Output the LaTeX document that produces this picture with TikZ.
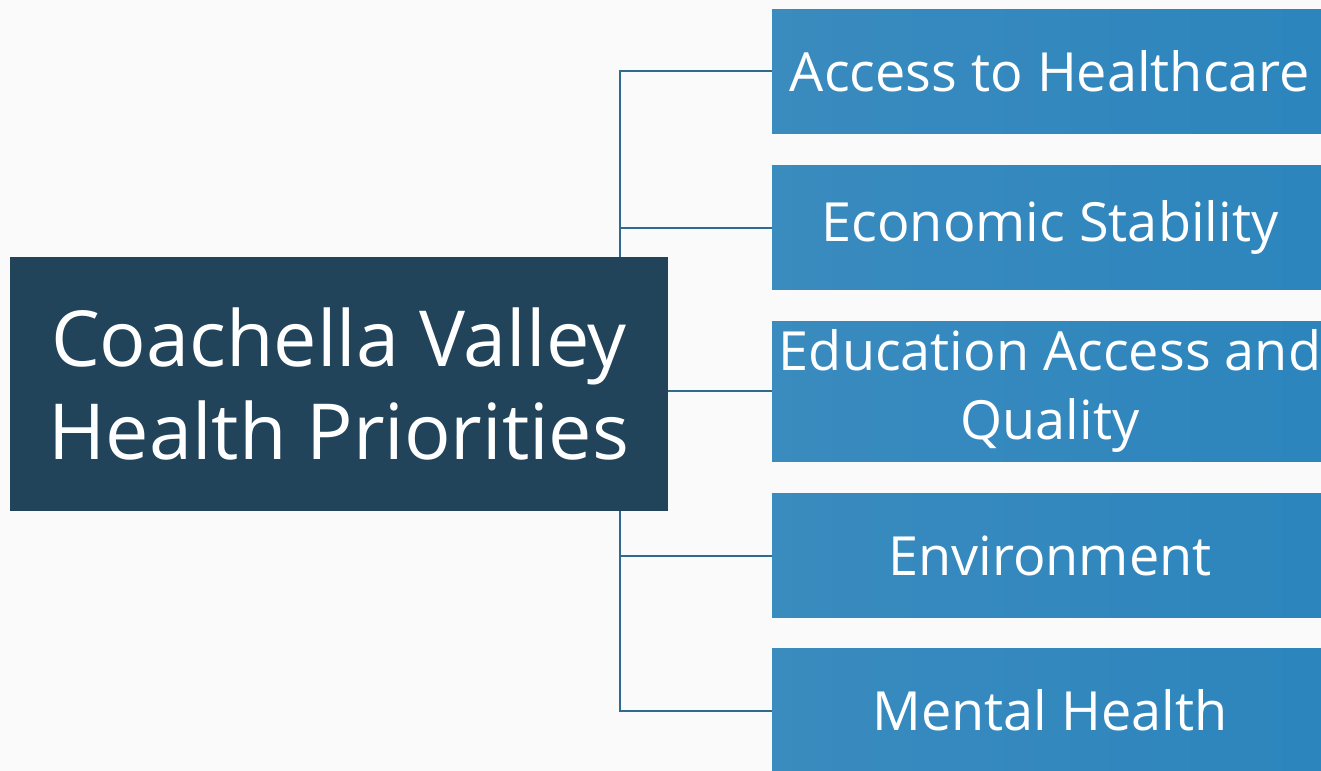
\documentclass[tikz,border=0pt]{standalone}
\usepackage{fontspec}
\setmainfont{Open Sans}
\definecolor{navy}{HTML}{21445A}
\definecolor{boxl}{HTML}{3A8BBE}
\definecolor{boxr}{HTML}{2C85BD}
\definecolor{linkc}{HTML}{2F6B8E}
\definecolor{paper}{HTML}{FAFAFA}

\begin{document}
\begin{tikzpicture}[x=0.75pt,y=-0.75pt,
  mainbox/.style={fill=navy,text=white,minimum width=493.5pt,minimum height=190.5pt,
    align=center,font=\fontsize{58}{70}\selectfont},
  topic/.style={left color=boxl,right color=boxr,text=white,minimum width=417pt,
    minimum height=93pt,align=center,inner sep=0pt,font=\fontsize{40.5}{52}\selectfont},
  link/.style={draw=linkc,line width=1.5pt}]
\useasboundingbox (0,0) rectangle (1321,771);
\clip (0,0) rectangle (1321,771);
\fill[paper] (0,0) rectangle (1321,771);

\node[mainbox] (main) at (339,384) {Coachella Valley\\Health Priorities};
\node[topic] (b1) at (1050,71) {Access to Healthcare};
\node[topic] (b2) at (1050,227.5) {Economic Stability};
\node[topic,minimum height=105pt] (b3) at (1050,391) {Education Access and\\Quality};
\node[topic] (b4) at (1050,555.5) {Environment};
\node[topic] (b5) at (1050,710.5) {Mental Health};

\coordinate (tr) at (620,0);
\draw[link] (b1.west) -- (b1.west -| tr) -- (main.north -| tr);
\draw[link] (b5.west) -- (b5.west -| tr) -- (main.south -| tr);
\draw[link] (b2.west) -- (b2.west -| tr);
\draw[link] (b4.west) -- (b4.west -| tr);
\draw[link] (main.east |- b3.west) -- (b3.west);
\end{tikzpicture}
\end{document}
